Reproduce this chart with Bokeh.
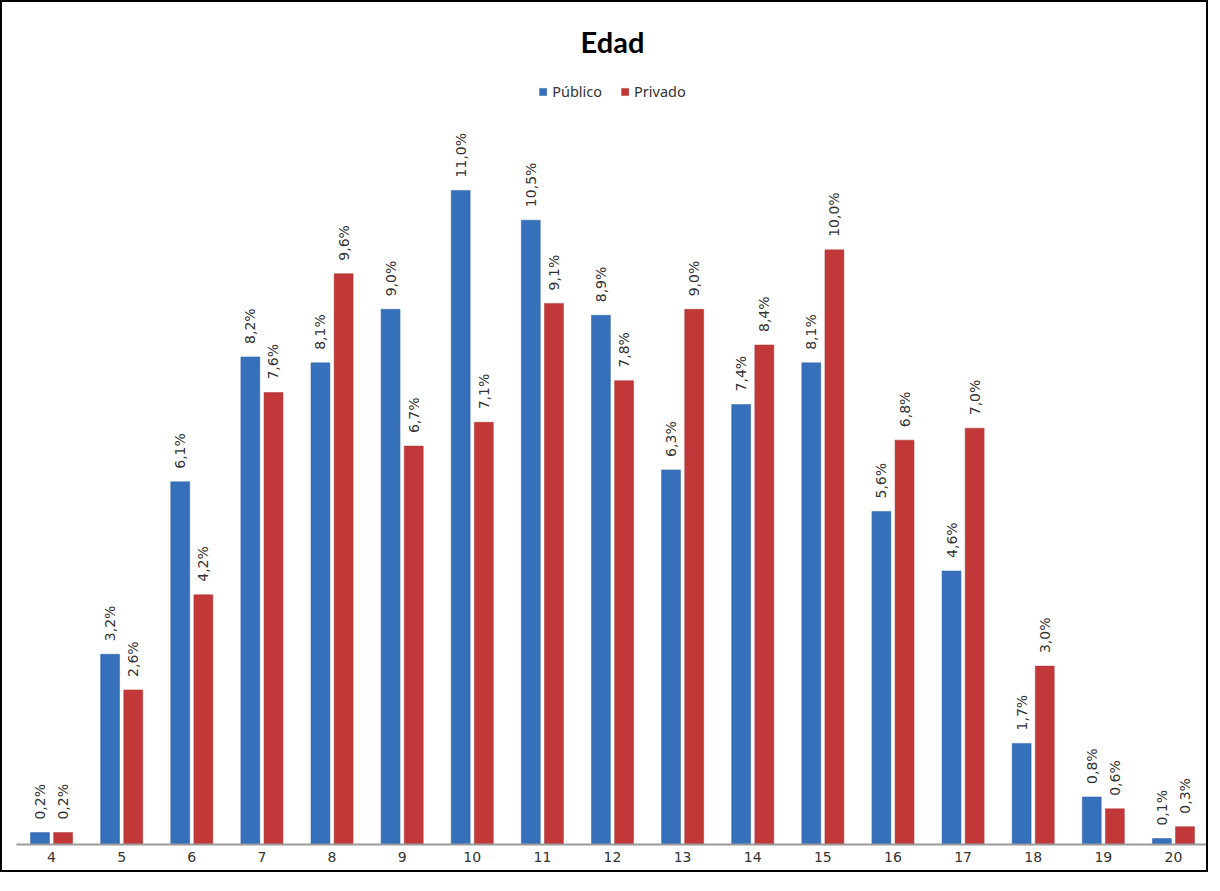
from math import pi
from bokeh.plotting import figure
from bokeh.models import Range1d, FixedTicker, Legend, LegendItem, Label
from bokeh.embed import file_html
from bokeh.resources import INLINE
from bokeh.core.properties import value

# ---- data ----
edades = ["4", "5", "6", "7", "8", "9", "10", "11", "12", "13", "14", "15", "16", "17", "18", "19", "20"]
publico = [0.2, 3.2, 6.1, 8.2, 8.1, 9.0, 11.0, 10.5, 8.9, 6.3, 7.4, 8.1, 5.6, 4.6, 1.7, 0.8, 0.1]
privado = [0.2, 2.6, 4.2, 7.6, 9.6, 6.7, 7.1, 9.1, 7.8, 9.0, 8.4, 10.0, 6.8, 7.0, 3.0, 0.6, 0.3]
series_names = ["Público", "Privado"]
title_text = "Edad"

BLUE = "#3670ba"
RED = "#c23838"

idx = list(range(len(edades)))
fmt = lambda v: f"{v:.1f}".replace(".", ",") + "%"

p = figure(width=1208, height=872, output_backend="svg", toolbar_location=None,
           x_range=Range1d(-0.5, len(edades) - 0.5), y_range=Range1d(0, 14.16),
           y_axis_location=None, min_border_left=14, min_border_right=2,
           min_border_top=0, min_border_bottom=30)
p.styles = {"border": "2px solid black"}
p.outline_line_color = None
p.xgrid.visible = False
p.ygrid.visible = False
p.background_fill_color = "white"
p.border_fill_color = "white"

off = 0.165
bw = 0.27
xb = [i - off for i in idx]
xr = [i + off for i in idx]
rb = p.vbar(x=xb, top=publico, width=bw, fill_color=BLUE, line_color="#2f62a4", line_width=0.5)
rr = p.vbar(x=xr, top=privado, width=bw, fill_color=RED, line_color="#a83030", line_width=0.5)

lab_font = value("DejaVu Sans")
p.text(x=xb, y=publico, text=[fmt(v) for v in publico], angle=pi / 2,
       text_align="left", text_baseline="middle", y_offset=-13,
       text_font=lab_font, text_font_size="14px", text_color="#333333")
p.text(x=xr, y=privado, text=[fmt(v) for v in privado], angle=pi / 2,
       text_align="left", text_baseline="middle", y_offset=-13,
       text_font=lab_font, text_font_size="14px", text_color="#333333")

p.add_layout(Label(x=(len(edades) - 1) / 2, y=13.51, text=title_text,
                   text_align="center", text_baseline="middle",
                   text_font="Lato", text_font_style="bold", text_font_size="29px",
                   text_color="black"))

legend = Legend(items=[LegendItem(label=series_names[0], renderers=[rb]),
                       LegendItem(label=series_names[1], renderers=[rr])],
                orientation="horizontal", location="top_center", margin=79,
                padding=0, spacing=18, glyph_width=9, glyph_height=9,
                label_text_font="Noto Sans", label_text_font_size="14.5px",
                label_text_color="#333333", label_standoff=5,
                border_line_color=None, background_fill_alpha=0)
p.add_layout(legend)

ax = p.xaxis[0]
ax.ticker = FixedTicker(ticks=idx)
ax.major_label_overrides = {i: e for i, e in zip(idx, edades)}
ax.major_tick_line_color = None
ax.minor_tick_line_color = None
ax.major_tick_out = 0
ax.axis_line_color = "#9a9a9a"
ax.axis_line_width = 2
ax.major_label_standoff = 7
ax.major_label_text_font = "DejaVu Sans"
ax.major_label_text_font_size = "14px"
ax.major_label_text_color = "#333333"

open("out.html", "w").write(file_html(p, INLINE))
